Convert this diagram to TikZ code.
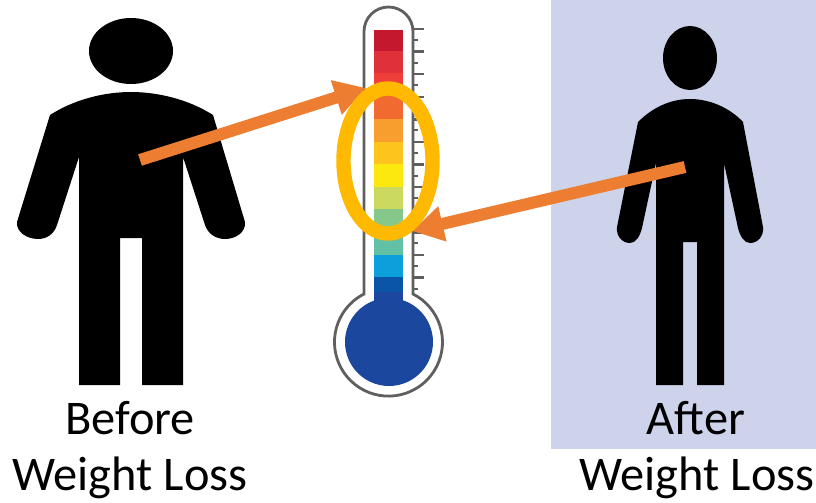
\documentclass[tikz,border=0pt]{standalone}
\usepackage{fontspec}
\setmainfont{Carlito}
\usetikzlibrary{arrows.meta,shapes.geometric}
\definecolor{panelblue}{HTML}{CDD3EB}
\definecolor{arroworange}{HTML}{ED7D31}
\definecolor{ringyellow}{HTML}{FFB900}
\definecolor{tubegray}{HTML}{5F5F5F}
\definecolor{bulbblue}{HTML}{1C479F}
\tikzset{
  person/.style={fill=black,draw=none},
  caption/.style={font=\fontsize{34.4}{34.4}\selectfont,inner sep=0pt,anchor=base},
  weightarrow/.style={arroworange,line width=0.3cm,
    -{Triangle[length=0.78cm,width=0.85cm]}}
}
\begin{document}
\begin{tikzpicture}[x=0.025cm,y=0.025cm]
        \useasboundingbox (0,0) rectangle (816,502);
        \fill[panelblue] (551,53) rectangle (816,502);

        % Silhouette avant : large
        \fill[person] (131,451) ellipse (42 and 33);
        \fill[person] (50,387) .. controls (75,403) and (105,410) .. (131,410)
          .. controls (157,410) and (188,403) .. (213,387)
          -- (245,280) .. controls (246,270) and (236,263) .. (225,263)
          .. controls (216,263) and (208,268) .. (205,277)
          -- (183,345) -- (183,117) -- (142,117) -- (142,264) -- (120,264) -- (120,117)
          -- (79,117) -- (79,345) -- (57,277)
          .. controls (54,268) and (47,263) .. (38,263)
          .. controls (27,263) and (16,270) .. (17,280) -- cycle;

        % Silhouette apres : mince
        \fill[person] (690,444) ellipse (27 and 32);
        \fill[person] (638,380) .. controls (652,394) and (670,403) .. (690,403)
          .. controls (710,403) and (730,394) .. (743,380)
          -- (763,275) .. controls (764,266) and (758,259) .. (750,259)
          .. controls (744,259) and (740,266) .. (738,274)
          -- (724,339) -- (724,117) -- (697,117) -- (697,260) -- (683,260) -- (683,117)
          -- (656,117) -- (656,339) -- (642,274)
          .. controls (640,266) and (636,259) .. (630,259)
          .. controls (622,259) and (616,266) .. (617,275) -- cycle;

        % Thermometre
        \draw[tubegray,line width=0.07cm,fill=white]
          (364,208) -- (364,470.5) arc (180:0:24.5) -- (413,208)
          arc (63:-243:54) -- cycle;
        \foreach \ytop/\bandhex in {472/C4182F,451/E0303A,429/EE4038,406/F16A30,383/F79E2E,
            360/FCC41C,338/FCE80E,315/CBD95F,293/86C88A,270/62C0A5,247/0D9FDC,225/0B55A8} {
          \definecolor{bandtint}{HTML}{\bandhex}
          \fill[bandtint] (374,\ytop) rectangle (403,\ytop-23);
        }
        \fill[bulbblue] (389,160) circle (44);
        \fill[bulbblue] (374,210) rectangle (403,190);
        \foreach \i in {0,...,11} {
          \draw[tubegray,line width=0.06cm] (413,473-\i*22.6) -- (424,473-\i*22.6);
          \draw[tubegray,line width=0.05cm] (413,462-\i*22.6) -- (418,462-\i*22.6);
        }

        % Fleches
        \coordinate (beforechest) at (140,342);
        \coordinate (hightemp) at (366,414);
        \coordinate (afterchest) at (685,335);
        \coordinate (lowtemp) at (412,271);
        \draw[weightarrow] (beforechest) -- (hightemp);
        \draw[weightarrow] (afterchest) -- (lowtemp);

        \node[draw=ringyellow,line width=0.36cm,ellipse,inner sep=0pt,
          minimum width=2.225cm,minimum height=3.625cm] (ring) at (388,341) {};

        \node[caption] (beforelabel) at (130,68) {Before};
        \node[caption] (beforeweight) at (130,12) {Weight Loss};
        \node[caption] (afterlabel) at (696,68) {After};
        \node[caption] (afterweight) at (697,12) {Weight Loss};
      \end{tikzpicture}
\end{document}
